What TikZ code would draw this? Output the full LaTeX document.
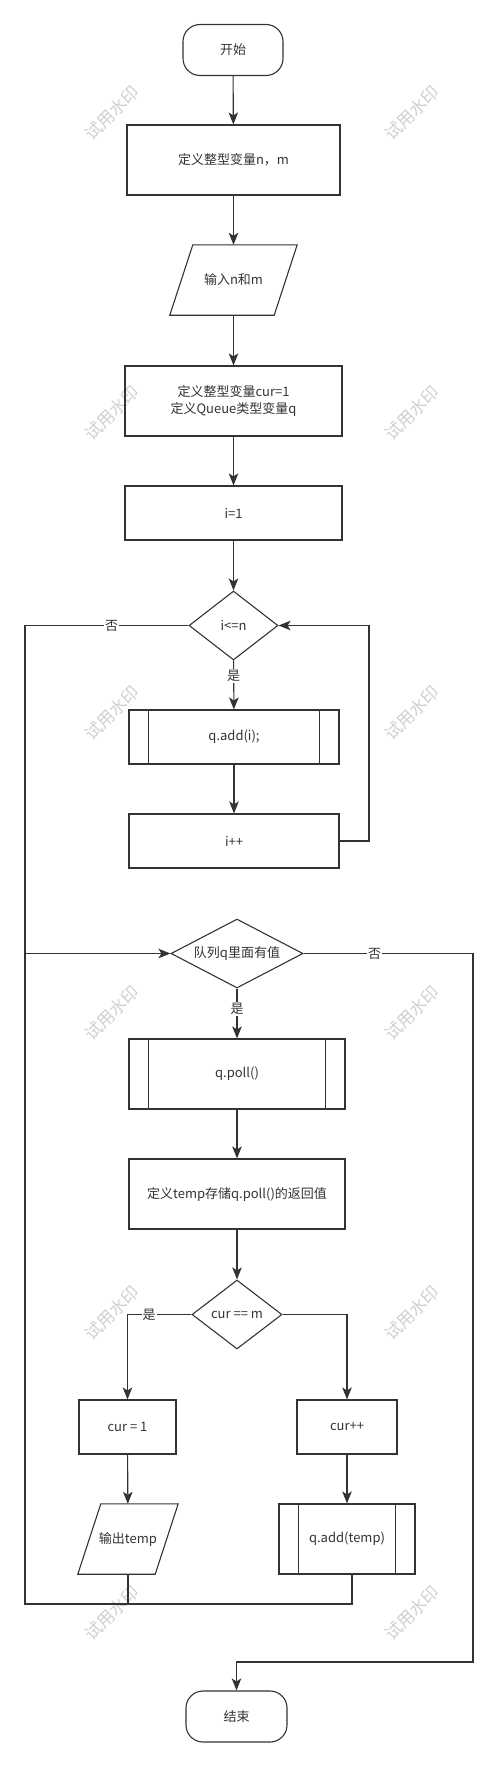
\documentclass[tikz,border=0pt]{standalone}
\usepackage{fontspec}
\setmainfont{Noto Sans CJK SC}
\usetikzlibrary{shapes.geometric,arrows.meta}
\definecolor{ln}{HTML}{333333}
\definecolor{wm}{HTML}{CFCFCF}
\newcommand\subbars[1]{\draw[lnst] ([xshift=20pt]#1.north west) -- ([xshift=20pt]#1.south west) ([xshift=-20pt]#1.north east) -- ([xshift=-20pt]#1.south east);}
\newcommand\paraio[1]{\draw[lnst] ([xshift=11.5pt]#1.north west) -- ([xshift=11.5pt]#1.north east) -- ([xshift=-11.5pt]#1.south east) -- ([xshift=-11.5pt]#1.south west) -- cycle;}
\begin{document}
\begin{tikzpicture}[x=1pt,y=-1pt,
  lnst/.style={draw=ln, line width=1.1pt},
  every node/.style={text=ln, font=\fontsize{13}{17}\selectfont, inner sep=0pt},
  box/.style={lnst, rectangle, align=center},
  term/.style={lnst, rectangle, rounded corners=17pt},
  dec/.style={lnst, diamond, aspect=1.9},
  io/.style={rectangle, align=center},
  arr/.style={lnst, -{Stealth[length=12pt,width=9.5pt,inset=3pt]}},
  lab/.style={fill=white, inner sep=1pt},
  wmk/.style={text=wm, rotate=45, font=\fontsize{17}{17}\selectfont}]
\useasboundingbox (0,0) rectangle (497,1766);
% watermarks
\foreach \y [count=\k] in {113,413,713,1013,1313,1613} {
  \node[wmk] (wa\k) at (112,\y) {试用水印};
  \node[wmk] (wb\k) at (412,\y) {试用水印};
}
% nodes
\node[term, minimum width=100pt, minimum height=51pt] (start) at (233,50) {开始};
\node[box, minimum width=213pt, minimum height=70pt] (b1) at (233.5,160) {定义整型变量n，m};
\node[io, minimum width=104pt, minimum height=70pt] (io1) at (233.5,280) {输入n和m};
\paraio{io1}
\node[box, minimum width=217pt, minimum height=70pt] (b2) at (233.5,401) {定义整型变量cur=1\\定义Queue类型变量q};
\node[box, minimum width=217pt, minimum height=54pt] (b3) at (233.5,513) {i=1};
\node[dec, minimum width=89pt, minimum height=69pt] (d1) at (233.5,625.5) {i<=n};
\node[box, minimum width=210pt, minimum height=54pt] (s1) at (234,737) {q.add(i);};
\subbars{s1}
\node[box, minimum width=210pt, minimum height=54pt] (b4) at (234,841) {i++};
\node[dec, minimum width=132pt, minimum height=69pt] (d2) at (237,953.5) {队列q里面有值};
\node[box, minimum width=216pt, minimum height=70pt] (s2) at (237,1074) {q.poll()};
\subbars{s2}
\node[box, minimum width=216pt, minimum height=70pt] (b5) at (237,1194) {定义temp存储q.poll()的返回值};
\node[dec, minimum width=90pt, minimum height=69pt] (d3) at (237,1314.5) {cur == m};
\node[box, minimum width=97pt, minimum height=54pt] (b6) at (127.5,1427) {cur = 1};
\node[box, minimum width=100pt, minimum height=54pt] (b7) at (347,1427) {cur++};
\node[io, minimum width=77pt, minimum height=70pt] (io2) at (128,1539) {输出temp};
\paraio{io2}
\node[box, minimum width=136pt, minimum height=70pt] (s3) at (347,1539) {q.add(temp)};
\subbars{s3}
\node[term, minimum width=101pt, minimum height=51pt] (end) at (236.5,1716.5) {结束};
% coordinates
\coordinate (r1) at (369,625.5);
\coordinate (l1) at (25,625.5);
\coordinate (l2) at (25,953.5);
\coordinate (r2) at (473,953.5);
\coordinate (r3) at (473,1662);
\coordinate (lb) at (25,1604);
% connectors
\draw[arr] (start) -- (b1);
\draw[arr] (b1) -- (io1);
\draw[arr] (io1) -- (b2);
\draw[arr] (b2) -- (b3);
\draw[arr] (b3) -- (d1);
\draw[arr] (d1) -- node[lab, pos=0.32] {是} (s1);
\draw[arr] (s1) -- (b4);
\draw[arr] (b4.east) -| (r1) -- (d1.east);
\draw[arr] (d1.west) -- node[lab, pos=0.47] {否} (l1) -- (l2) -- (d2.west);
\draw[arr] (d2) -- node[lab, pos=0.41] {是} (s2);
\draw[arr] (d2.east) -- node[lab, pos=0.42] {否} (r2) -- (r3) -| (end.north);
\draw[arr] (s2) -- (b5);
\draw[arr] (b5) -- (d3);
\draw[arr] (d3.west) -| node[lab, pos=0.33] {是} (b6.north);
\draw[arr] (d3.east) -| (b7.north);
\draw[arr] (b6) -- (io2);
\draw[arr] (b7) -- (s3);
\draw[lnst] (io2.south) |- (lb) -- (l2);
\draw[lnst] ([xshift=5pt]s3.south) |- (io2.south |- lb);
\end{tikzpicture}
\end{document}
